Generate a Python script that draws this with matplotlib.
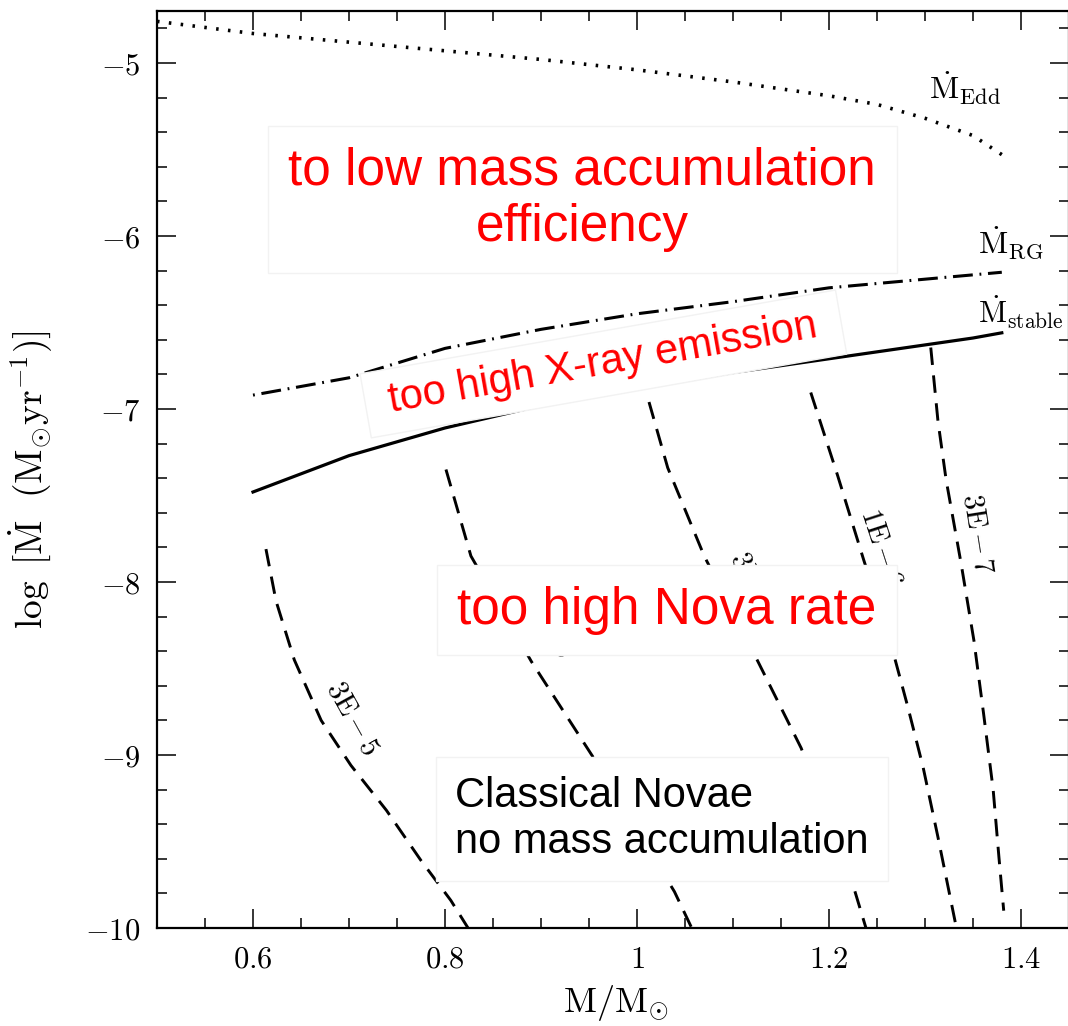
import matplotlib.pyplot as plt
from matplotlib.ticker import MultipleLocator, FuncFormatter

plt.rcParams['mathtext.fontset'] = 'cm'

# critical accretion rates
m_edd = [0.5, 0.6, 0.7, 0.8, 0.9, 1.0, 1.1, 1.2, 1.25, 1.3, 1.35, 1.38]
mdot_edd = [-4.76, -4.83, -4.88, -4.93, -4.98, -5.04, -5.11, -5.19, -5.24, -5.32, -5.42, -5.53]

m_rg = [0.6, 0.7, 0.8, 0.9, 1.0, 1.1, 1.2, 1.3, 1.38]
mdot_rg = [-6.92, -6.82, -6.65, -6.54, -6.45, -6.38, -6.30, -6.25, -6.21]

m_stable = [0.6, 0.7, 0.8, 0.9, 1.0, 1.1, 1.2, 1.3, 1.35, 1.38]
mdot_stable = [-7.48, -7.27, -7.11, -6.98, -6.88, -6.79, -6.71, -6.63, -6.59, -6.56]

# nova rate contours
m_3e5 = [0.6135, 0.624, 0.643, 0.671, 0.702, 0.739, 0.775, 0.806, 0.824]
mdot_3e5 = [-7.81, -8.11, -8.45, -8.80, -9.06, -9.32, -9.61, -9.84, -10.0]

m_1e5 = [0.801, 0.827, 0.890, 0.954, 1.039, 1.057]
mdot_1e5 = [-7.35, -7.85, -8.46, -9.01, -9.79, -10.0]

m_3e6 = [1.0125, 1.032, 1.070, 1.126, 1.171, 1.226, 1.2385]
mdot_3e6 = [-6.96, -7.34, -7.85, -8.46, -8.96, -9.77, -10.0]

m_1e6 = [1.181, 1.209, 1.236, 1.267, 1.282, 1.298, 1.3135, 1.332]
mdot_1e6 = [-6.905, -7.385, -7.87, -8.41, -8.72, -9.07, -9.475, -9.98]

m_3e7 = [1.306, 1.3135, 1.322, 1.3375, 1.351, 1.361, 1.371, 1.377, 1.382]
mdot_3e7 = [-6.645, -7.07, -7.41, -7.89, -8.34, -8.76, -9.20, -9.59, -9.90]

contour_labels = ['3E-5', '1E-5', '3E-6', '1E-6', '3E-7']

fig = plt.figure(figsize=(10.68, 10.26), dpi=100)
ax = fig.add_axes([157/1068, 98/1026, 912/1068, 917/1026])

ax.plot(m_edd, mdot_edd, color='k', lw=2.6, linestyle=(0, (0.7, 2.6)))
ax.plot(m_rg, mdot_rg, color='k', lw=2.2, linestyle=(0, (0.6, 2.2, 6.5, 2.2)))
ax.plot(m_stable, mdot_stable, color='k', lw=2.3)

contours = [(m_3e5, mdot_3e5), (m_1e5, mdot_1e5), (m_3e6, mdot_3e6),
            (m_1e6, mdot_1e6), (m_3e7, mdot_3e7)]
for mx, my in contours:
    ax.plot(mx, my, color='k', lw=2.1, linestyle=(0, (6, 3.6)))

# contour labels (x, y, rotation)
lab_pos = [(0.704, -8.79, -61), (0.903, -8.23, -56), (1.124, -8.04, -63),
           (1.255, -7.80, -72), (1.355, -7.72, -81)]
for lab, (lx, ly, rot) in zip(contour_labels, lab_pos):
    a, b = lab.split('-')
    ax.text(lx, ly, r'$\mathrm{%s}\,{-}\,%s$' % (a, b), fontsize=21, rotation=rot,
            ha='center', va='center', rotation_mode='anchor', zorder=2.5)

# curve names
ax.text(1.304, -5.21, r'$\dot{\mathrm{M}}_{\mathrm{Edd}}$', fontsize=23, ha='left', va='baseline')
ax.text(1.355, -6.10, r'$\dot{\mathrm{M}}_{\mathrm{RG}}$', fontsize=23, ha='left', va='baseline')
ax.text(1.355, -6.51, r'$\dot{\mathrm{M}}_{\mathrm{stable}}$', fontsize=22, ha='left', va='baseline')

# region annotations
box = dict(facecolor='white', edgecolor='#f2f2f2', boxstyle='square,pad=0.4')
ax.text(0.943, -5.79, 'to low mass accumulation\nefficiency', color='red', fontsize=37,
        family='Liberation Sans', ha='center', va='center', multialignment='center',
        bbox=box, zorder=4)
ax.text(0.965, -6.74, ' too high X-ray emission ', color='red', fontsize=30,
        family='Liberation Sans', ha='center', va='center', rotation=10,
        rotation_mode='anchor',
        bbox=dict(facecolor='white', edgecolor='#f2f2f2', boxstyle='square,pad=0.3'),
        zorder=4)
ax.text(1.031, -8.164, 'too high Nova rate', color='red', fontsize=37,
        family='Liberation Sans', ha='center', va='center', bbox=box, zorder=4)
ax.text(1.026, -9.37, 'Classical Novae\nno mass accumulation', color='black', fontsize=30,
        family='Liberation Sans', ha='center', va='center', multialignment='left',
        bbox=dict(facecolor='white', edgecolor='#f2f2f2', boxstyle='square,pad=0.45'),
        zorder=4)

ax.set_xlim(0.5, 1.45)
ax.set_ylim(-10, -4.7)
ax.xaxis.set_major_locator(MultipleLocator(0.2))
ax.xaxis.set_minor_locator(MultipleLocator(0.05))
ax.yaxis.set_major_locator(MultipleLocator(1))
ax.yaxis.set_minor_locator(MultipleLocator(0.2))
fmt = FuncFormatter(lambda v, p: '$%g$' % round(v, 6))
ax.xaxis.set_major_formatter(fmt)
ax.yaxis.set_major_formatter(fmt)
ax.tick_params(which='both', direction='in', top=True, right=True, width=1.1)
ax.tick_params(which='major', length=14, labelsize=22)
ax.tick_params(which='minor', length=7)
ax.tick_params(axis='y', which='major', pad=12)
ax.tick_params(axis='x', which='major', pad=12)
for s in ax.spines.values():
    s.set_linewidth(1.6)

ax.set_xlabel(r'$\mathrm{M}/\mathrm{M}_{\odot}$', fontsize=26)
ax.set_ylabel(r'$\log\ [\dot{\mathrm{M}}\ \ (\mathrm{M}_{\odot}\mathrm{yr}^{-1})]$', fontsize=27)
ax.xaxis.set_label_coords(0.503, -0.06)
ax.yaxis.set_label_coords(-0.112, 0.489)

fig.savefig('out.png', dpi=100)
